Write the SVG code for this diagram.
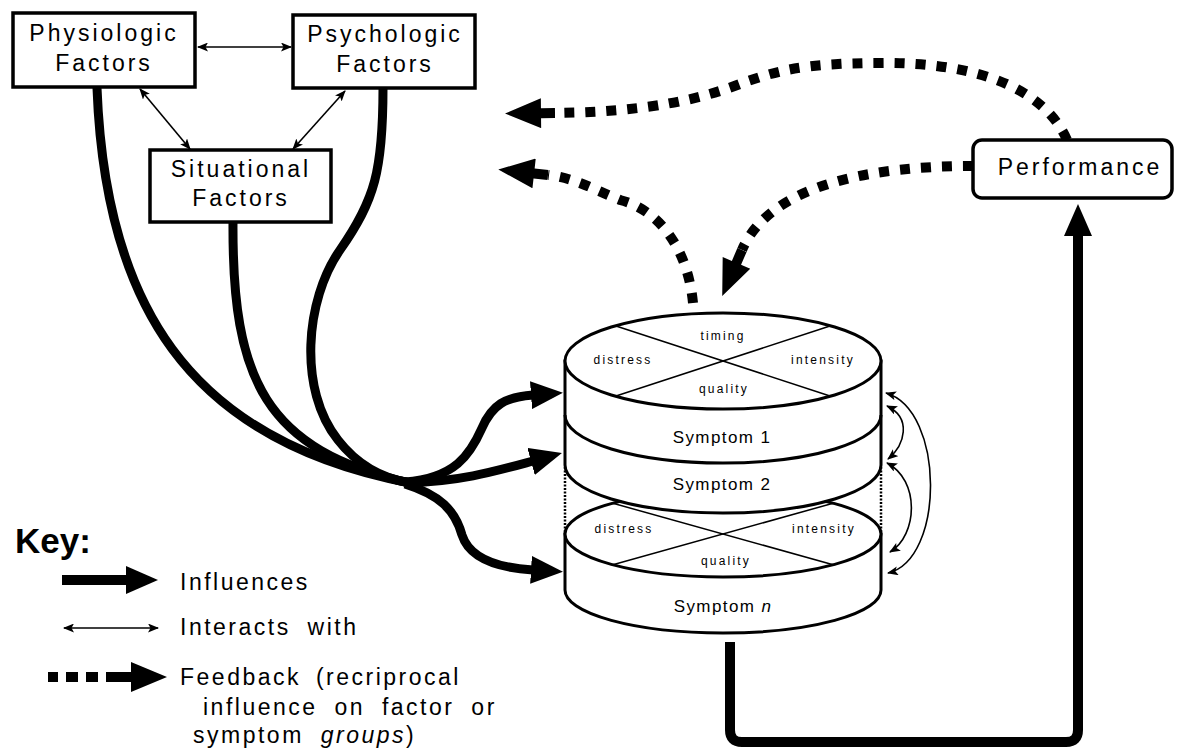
<svg xmlns="http://www.w3.org/2000/svg" width="1178" height="748" viewBox="0 0 1178 748">
<style>
text{font-family:"Liberation Sans",Arial,sans-serif;fill:#000}
.box{fill:#fff;stroke:#000;stroke-width:3.5}
.bt{font-size:23px;letter-spacing:3px;text-anchor:middle}
.inf{fill:none;stroke:#000;stroke-width:9;stroke-linecap:round}
.thin{fill:none;stroke:#000;stroke-width:1.6}
.fb{fill:none;stroke:#000;stroke-width:10;stroke-dasharray:10 11}
.cyl{fill:#fff;stroke:#000;stroke-width:3}
.xl{stroke:#000;stroke-width:1.5}
.lab{font-size:12px;letter-spacing:2.2px;text-anchor:middle}
.sym{font-size:17px;letter-spacing:1.4px;text-anchor:middle}
.key{font-size:23px;letter-spacing:2.5px}
</style>
<defs>
<marker id="big" viewBox="0 0 32 28" refX="2" refY="14" markerWidth="32" markerHeight="28" markerUnits="userSpaceOnUse" orient="auto"><path d="M0,0 L32,14 L0,28 Z"/></marker>
<marker id="sm" viewBox="0 0 11 9" refX="10" refY="4.5" markerWidth="11" markerHeight="9" markerUnits="userSpaceOnUse" orient="auto-start-reverse"><path d="M0,0 L11,4.5 L0,9 L2.5,4.5 Z"/></marker>
<marker id="fbh" viewBox="0 0 50 30" refX="0" refY="15" markerWidth="50" markerHeight="30" markerUnits="userSpaceOnUse" orient="auto"><path d="M0,10 L14,10 L14,0 L50,15 L14,30 L14,20 L0,20 Z"/></marker>
</defs>

<g id="connectors">
<line class="thin" x1="198" y1="47" x2="291" y2="47" marker-start="url(#sm)" marker-end="url(#sm)"/>
<line class="thin" x1="140" y1="89" x2="190" y2="149" marker-start="url(#sm)" marker-end="url(#sm)"/>
<line class="thin" x1="345" y1="91" x2="293" y2="149" marker-start="url(#sm)" marker-end="url(#sm)"/>
<path class="inf" d="M97,88 C105,300 185,440 410,483"/>
<path class="inf" d="M233,222 C232,380 265,450 410,483"/>
<path class="inf" d="M383,88 C383,170 375,200 340,250 C305,300 298,390 338,440 C355,462 380,478 410,483"/>
<path class="inf" style="stroke-linecap:butt" d="M405,482 C455,478 470,455 482,428 C492,405 505,397 533,395" marker-end="url(#big)"/>
<path class="inf" style="stroke-linecap:butt" d="M405,483 C460,482 500,470 533,461" marker-end="url(#big)"/>
<path class="inf" style="stroke-linecap:butt" d="M405,484 C440,495 455,510 462,535 C470,560 500,568 533,570" marker-end="url(#big)"/>
<path fill="none" stroke="#000" stroke-width="10" d="M730,642 V730 Q730,742 742,742 H1066 Q1078,742 1078,730 V234" marker-end="url(#big)"/>
<path class="fb" d="M1067,140 C1045,90 980,62 880,63 C800,63 775,72 745,82 C705,98 650,112 555,113" marker-end="url(#fbh)"/>
<path class="fb" d="M693,303 C688,250 660,210 620,200 C595,190 575,178 548,175" marker-end="url(#fbh)"/>
<path class="fb" d="M973,166 C870,166 770,185 742,250" marker-end="url(#fbh)"/>
<path class="thin" d="M886,393 C945,410 945,560 888,573" marker-start="url(#sm)" marker-end="url(#sm)"/>
<path class="thin" d="M887,406 C912,418 905,445 888,459" marker-start="url(#sm)" marker-end="url(#sm)"/>
<path class="thin" d="M887,463 C920,480 918,535 890,552" marker-start="url(#sm)" marker-end="url(#sm)"/>
</g>

<g id="physiologic">
<rect class="box" x="13" y="13" width="182" height="74"/>
<text class="bt" x="104" y="41">Physiologic</text>
<text class="bt" x="104" y="71">Factors</text>
</g>
<g id="psychologic">
<rect class="box" x="293" y="15" width="182" height="73"/>
<text class="bt" x="385" y="42">Psychologic</text>
<text class="bt" x="385" y="72">Factors</text>
</g>
<g id="situational">
<rect class="box" x="150" y="150" width="181" height="72"/>
<text class="bt" x="241" y="177">Situational</text>
<text class="bt" x="241" y="206">Factors</text>
</g>
<g id="performance">
<rect class="box" x="973" y="140" width="199" height="58" rx="9"/>
<text class="bt" x="1080" y="175">Performance</text>
</g>

<g id="symptom-n">
<path class="cyl" d="M565,534 V590 A158,43 0 0 0 881,590 V534 Z"/>
<ellipse class="cyl" cx="723" cy="534" rx="158" ry="43"/>
<line class="xl" x1="612" y1="503" x2="834" y2="565"/>
<line class="xl" x1="834" y1="503" x2="612" y2="565"/>
<text class="lab" x="624" y="533">distress</text>
<text class="lab" x="824" y="533">intensity</text>
<text class="lab" x="726" y="565">quality</text>
<text class="sym" x="723" y="612">Symptom <tspan font-style="italic">n</tspan></text>
</g>
<g id="symptoms-1-2">
<path class="cyl" d="M565,361 V465 A158,48 0 0 0 881,465 V361 Z"/>
<path fill="none" stroke="#000" stroke-width="3" d="M565,415 A158,48 0 0 0 881,415"/>
<ellipse class="cyl" cx="723" cy="361" rx="158" ry="48"/>
<line class="xl" x1="616" y1="326" x2="830" y2="396"/>
<line class="xl" x1="830" y1="326" x2="616" y2="396"/>
<text class="lab" x="723" y="340">timing</text>
<text class="lab" x="623" y="364">distress</text>
<text class="lab" x="823" y="364">intensity</text>
<text class="lab" x="724" y="393">quality</text>
<text class="sym" x="722" y="443">Symptom 1</text>
<text class="sym" x="722" y="490">Symptom 2</text>
<line stroke="#000" stroke-width="2.5" stroke-dasharray="2 1.5" x1="565" y1="467" x2="565" y2="532"/>
<line stroke="#000" stroke-width="2.5" stroke-dasharray="2 1.5" x1="881" y1="467" x2="881" y2="532"/>
</g>

<g id="key">
<text x="15" y="553" font-size="35" font-weight="bold">Key:</text>
<path fill="none" stroke="#000" stroke-width="10" d="M62,580 H128" marker-end="url(#big)"/>
<text class="key" x="180" y="590">Influences</text>
<line class="thin" x1="64" y1="628" x2="158" y2="628" marker-start="url(#sm)" marker-end="url(#sm)"/>
<text class="key" x="180" y="635" word-spacing="8">Interacts with</text>
<path fill="none" stroke="#000" stroke-width="10" stroke-dasharray="12 8" stroke-dashoffset="2" d="M48,677 H117" marker-end="url(#fbh)"/>
<text class="key" x="180" y="685" word-spacing="6">Feedback (recriprocal</text>
<text class="key" x="203" y="715" word-spacing="8">influence on factor or</text>
<text class="key" x="193" y="743" word-spacing="8">symptom <tspan font-style="italic">groups</tspan>)</text>
</g>
</svg>
